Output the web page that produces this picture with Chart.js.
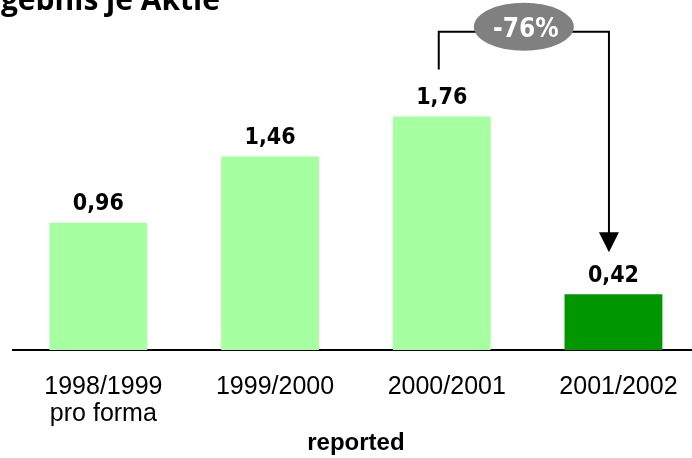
<!DOCTYPE html>
<html>
<head>
<meta charset="utf-8">
<script src="https://cdn.jsdelivr.net/npm/chart.js@4/dist/chart.umd.min.js"></script>
<style>
  html, body { margin: 0; padding: 0; background: #fff; overflow: hidden; }
  #wrap { width: 700px; height: 458px; }
</style>
</head>
<body>
<div id="wrap"><canvas id="eps" width="700" height="458"></canvas></div>
<script>
//categories and values
const categories = [["1998/1999", "pro forma"], "1999/2000", "2000/2001", "2001/2002"];
const epsValues = [0.96, 1.46, 1.76, 0.42];
const barColors = ["#a6ffa0", "#a6ffa0", "#a6ffa0", "#009600"];
const chartTitle = "Ergebnis je Aktie";
const axisTitle = "reported";
const changeLabel = "-76%";

const fmt = (v) => v.toFixed(2).replace(".", ",");

//draws value labels, title and the -76% bracket
const overlay = {
  id: "overlay",
  afterDraw(chart) {
    const ctx = chart.ctx;
    const bars = chart.getDatasetMeta(0).data;
    const yScale = chart.scales.y;
    ctx.save();
    ctx.fillStyle = "#000";
    ctx.textAlign = "center";
    ctx.textBaseline = "alphabetic";
    ctx.font = 'bold 23px "DejaVu Sans Condensed", "DejaVu Sans"';
    bars.forEach((b, i) => ctx.fillText(fmt(epsValues[i]), b.x, b.y - 12.5));

    //title (cut off on the left like the original)
    ctx.textAlign = "right";
    ctx.font = 'bold 30px "Open Sans"';
    ctx.fillText(chartTitle, 220, 9.5);

    //bracket with arrow
    const x1 = bars[2].x - 3;
    const x2 = bars[3].x - 4.5;
    const top = yScale.getPixelForValue(2.4);
    const tip = bars[3].y - 42;
    ctx.strokeStyle = "#000";
    ctx.lineWidth = 2;
    ctx.beginPath();
    ctx.moveTo(x1, bars[2].y - 47);
    ctx.lineTo(x1, top);
    ctx.lineTo(x2, top);
    ctx.lineTo(x2, tip - 19);
    ctx.stroke();
    ctx.beginPath();
    ctx.moveTo(x2 - 10, tip - 20);
    ctx.lineTo(x2 + 10, tip - 20);
    ctx.lineTo(x2, tip);
    ctx.closePath();
    ctx.fill();

    //grey ellipse
    const cx = (x1 + x2) / 2;
    ctx.fillStyle = "#808080";
    ctx.beginPath();
    ctx.ellipse(cx, top - 5, 50, 24, 0, 0, Math.PI * 2);
    ctx.fill();
    ctx.fillStyle = "#fff";
    ctx.textAlign = "center";
    ctx.font = 'bold 26px "DejaVu Sans Condensed", "DejaVu Sans"';
    ctx.fillText(changeLabel, cx + 2, top + 5);
    ctx.restore();
  },
};

let epsChart = new Chart(document.getElementById("eps"), {
  type: "bar",
  plugins: [overlay],
  data: {
    labels: categories,
    datasets: [
      {
        data: epsValues,
        backgroundColor: barColors,
        barPercentage: 0.57,
        categoryPercentage: 1,
      },
    ],
  },
  options: {
    responsive: false,
    animation: false,
    layout: { padding: { top: 18.5, left: 12.5, right: 0.7, bottom: 0 } },
    plugins: { legend: { display: false }, tooltip: { enabled: false } },
    scales: {
      y: { display: false, min: 0, max: 2.5 },
      x: {
        grid: { display: false, drawTicks: false },
        border: { display: true, color: "#000", width: 2 },
        ticks: {
          color: "#000",
          padding: 24,
          labelOffset: 5,
          maxRotation: 0,
          autoSkip: false,
          font: { family: '"Liberation Sans"', size: 25, lineHeight: 1.08 },
        },
        title: {
          display: true,
          text: axisTitle,
          color: "#000",
          padding: { top: 0, bottom: 0 },
          font: { family: '"Liberation Sans"', size: 24, weight: "bold", lineHeight: 1.2 },
        },
        afterFit: (scale) => {
          scale.height = 108;
        },
      },
    },
  },
});
</script>
</body>
</html>
